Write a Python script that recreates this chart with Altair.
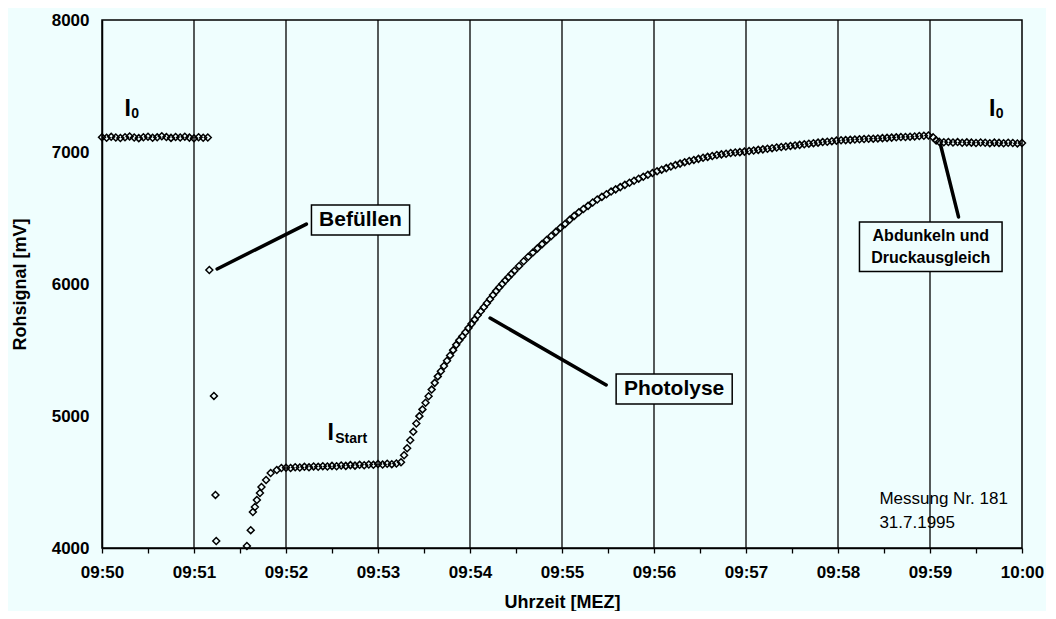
import altair as alt
import pandas as pd

BG = "#effefe"
FONT = "Liberation Sans"

# ---------------- data (seconds after 09:50:00, Rohsignal in mV) ----------------
# I0 before filling, every 3 s from 0 s
I0_START, I0_STEP = 0, 3
I0_VALUES = [7112, 7108, 7115, 7110, 7106, 7112, 7118, 7110, 7105, 7112, 7116, 7108,
             7111, 7119, 7113, 7107, 7114, 7110, 7116, 7109, 7104, 7112, 7108, 7110]

# filling (Befüllen)
FILL_T = [70, 73, 74, 74.5]
FILL_V = [6106, 5152, 4402, 4053]

# recovery after filling
RISE_T = [94.5, 97, 98.4, 99.7, 101, 103, 104, 107, 110, 114, 117]
RISE_V = [4015, 4135, 4273, 4311, 4364, 4417, 4462, 4515, 4568, 4591, 4606]

# I_Start plateau, every 3 s from 120 s
PLAT_START, PLAT_STEP = 120, 3
PLAT_VALUES = [4608, 4606, 4612, 4610, 4615, 4611, 4618, 4615, 4620, 4617, 4622, 4619,
               4625, 4622, 4628, 4624, 4630, 4627, 4633, 4630, 4636, 4632, 4638, 4635, 4640]

# photolysis, steep part, every 2 s from 195 s
PH1_START, PH1_STEP = 195, 2
PH1_VALUES = [4650, 4703, 4756, 4816, 4880, 4943, 4999, 5050, 5100, 5150,
              5200, 5251, 5300, 5339, 5379, 5419, 5459, 5499, 5539, 5573,
              5603, 5634, 5666, 5698, 5730, 5763, 5793, 5824, 5854, 5885,
              5916, 5946, 5974, 6000, 6026, 6051, 6076, 6101]

# photolysis, flattening part, every 3 s from 272 s
PH2_START, PH2_STEP = 272, 3
PH2_VALUES = [6137, 6172, 6206, 6238, 6270, 6302, 6334, 6364, 6395, 6426,
              6455, 6486, 6516, 6543, 6568, 6592, 6617, 6640, 6660, 6680,
              6700, 6717, 6734, 6751, 6767, 6782, 6798, 6812, 6827, 6841,
              6854, 6866, 6878, 6890, 6901, 6912, 6923, 6932, 6940, 6948,
              6956, 6963, 6970, 6977, 6982, 6987, 6992, 6996, 6999, 7003,
              7007, 7011, 7016, 7020, 7025, 7029, 7034, 7038, 7042, 7046,
              7050, 7054, 7058, 7063, 7067, 7071, 7075, 7078, 7082, 7086,
              7089, 7090, 7092, 7094, 7096, 7098, 7100, 7101, 7103, 7105,
              7107, 7109, 7111, 7113, 7114, 7116, 7118, 7121, 7123, 7125]

# darkening and pressure equalisation
DARK_T = [542, 544]
DARK_V = [7112, 7088]

# I0 after, every 3 s from 546 s
TAIL_START, TAIL_STEP = 546, 3
TAIL_VALUES = [7078, 7074, 7076, 7072, 7075, 7070, 7073, 7071, 7068, 7072,
               7070, 7067, 7071, 7069, 7066, 7070, 7068, 7065, 7068]

# axis ticks
X_TICKS = list(range(0, 601, 30))
GRID_T = [60, 120, 180, 240, 300, 360, 420, 480, 540]
Y_TICKS = [4000, 5000, 6000, 7000, 8000]

# annotations
LEADER_T = [75.1, 253.1, 546.9]
LEADER_V = [6114, 5742, 7053]
LEADER_T2 = [133.3, 328.8, 558.6]
LEADER_V2 = [6454, 5235, 6508]

BOX_T = [136.6, 335.3, 494.0]
BOX_T2 = [200.6, 411.0, 587.0]
BOX_V = [6598, 5318, 6470]
BOX_V2 = [6371, 5091, 6095]

BOX_TEXT = ["Befüllen", "Photolyse"]
BOX_TEXT_T = [168.6, 373.1]
BOX_TEXT_V = [6485, 5205]

DARK_TEXT = ["Abdunkeln und", "Druckausgleich"]
DARK_TEXT_T = [540.5, 540.5]
DARK_TEXT_V = [6360, 6200]

I_TEXT_T = [16.8, 580.6, 149.2]
I_TEXT_V = [7326, 7326, 4875]
SUB_TEXT = ["0", "0", "Start"]
SUB_TEXT_T = [19.0, 582.8, 152.1]
SUB_TEXT_V = [7285, 7285, 4822]

NOTE_TEXT = ["Messung Nr. 181", "31.7.1995"]
NOTE_T = [507.0, 507.0]
NOTE_V = [4375, 4190]

# ---------------- build table ----------------
rows = []


def add_regular(start, step, vals):
    for i, v in enumerate(vals):
        rows.append({"t": start + step * i, "v": v})


def add_pairs(ts, vs):
    for t, v in zip(ts, vs):
        rows.append({"t": t, "v": v})


add_regular(I0_START, I0_STEP, I0_VALUES)
add_pairs(FILL_T, FILL_V)
add_pairs(RISE_T, RISE_V)
add_regular(PLAT_START, PLAT_STEP, PLAT_VALUES)
add_regular(PH1_START, PH1_STEP, PH1_VALUES)
add_regular(PH2_START, PH2_STEP, PH2_VALUES)
add_pairs(DARK_T, DARK_V)
add_regular(TAIL_START, TAIL_STEP, TAIL_VALUES)
df = pd.DataFrame(rows)

x_scale = alt.Scale(domain=[0, 600], nice=False, zero=False)
y_scale = alt.Scale(domain=[4000, 8000], nice=False, zero=False)

x_axis = alt.Axis(
    values=X_TICKS,
    labelExpr="datum.value % 60 == 0 ? (datum.value >= 600 ? '10:00' : '09:' + (50 + datum.value / 60)) : ''",
    title="Uhrzeit [MEZ]", grid=False, ticks=True, tickSize=5, tickColor="black", tickWidth=1.3,
    domainColor="black", domainWidth=1.5,
    labelFont=FONT, labelFontWeight="bold", labelFontSize=17, labelColor="black",
    labelPadding=11, labelFlush=False, labelOverlap=False,
    titleFont=FONT, titleFontSize=18, titleFontWeight="bold", titleColor="black", titlePadding=13,
)
y_axis = alt.Axis(
    values=Y_TICKS, format="d", title="Rohsignal [mV]", grid=False, ticks=False,
    domainColor="black", domainWidth=1.5,
    labelFont=FONT, labelFontWeight="bold", labelFontSize=17, labelColor="black", labelPadding=13,
    labelFlush=False,
    titleFont=FONT, titleFontSize=18, titleFontWeight="bold", titleColor="black", titlePadding=22,
)


def X(field="t"):
    return alt.X(f"{field}:Q", scale=x_scale, axis=x_axis)


def Y(field="v"):
    return alt.Y(f"{field}:Q", scale=y_scale, axis=y_axis)


grid = alt.Chart(pd.DataFrame({"t": GRID_T})).mark_rule(color="black", strokeWidth=1.3).encode(x=X())

points = alt.Chart(df).mark_point(
    shape="diamond", filled=False, color="black", strokeWidth=1.5, size=48, opacity=1
).encode(x=X(), y=Y())

leaders = alt.Chart(pd.DataFrame({"t": LEADER_T, "v": LEADER_V, "t2": LEADER_T2, "v2": LEADER_V2})).mark_rule(
    color="black", strokeWidth=3.5, strokeCap="round"
).encode(x=X(), y=Y(), x2="t2:Q", y2="v2:Q")

boxes = alt.Chart(pd.DataFrame({"t": BOX_T, "v": BOX_V, "t2": BOX_T2, "v2": BOX_V2})).mark_rect(
    fill=BG, stroke="black", strokeWidth=1.5
).encode(x=X(), y=Y(), x2="t2:Q", y2="v2:Q")


def text_layer(labels, ts, vs, size, weight, align="center", baseline="middle"):
    d = pd.DataFrame({"t": ts, "v": vs, "label": labels})
    return alt.Chart(d).mark_text(
        font=FONT, fontSize=size, fontWeight=weight, align=align, baseline=baseline, color="black"
    ).encode(x=X(), y=Y(), text="label:N")


box_text = text_layer(BOX_TEXT, BOX_TEXT_T, BOX_TEXT_V, 21, "bold")
dark_text = text_layer(DARK_TEXT, DARK_TEXT_T, DARK_TEXT_V, 16, "bold")
i_text = text_layer(["I", "I", "I"], I_TEXT_T, I_TEXT_V, 23, "bold")
sub_text = text_layer(SUB_TEXT, SUB_TEXT_T, SUB_TEXT_V, 14, "bold", align="left")
note_text = text_layer(NOTE_TEXT, NOTE_T, NOTE_V, 17, "normal", align="left")

chart = alt.layer(
    grid, points, leaders, boxes, box_text, dark_text, i_text, sub_text, note_text
).properties(
    width=920, height=528,
    autosize=alt.AutoSizeParams(type="none"),
    padding={"left": 94, "top": 12, "right": 24, "bottom": 63},
    background=BG,
).configure_view(stroke="black", strokeWidth=1.5, fill=BG)

chart.save("out.html", embed_options={"renderer": "svg", "actions": False})
